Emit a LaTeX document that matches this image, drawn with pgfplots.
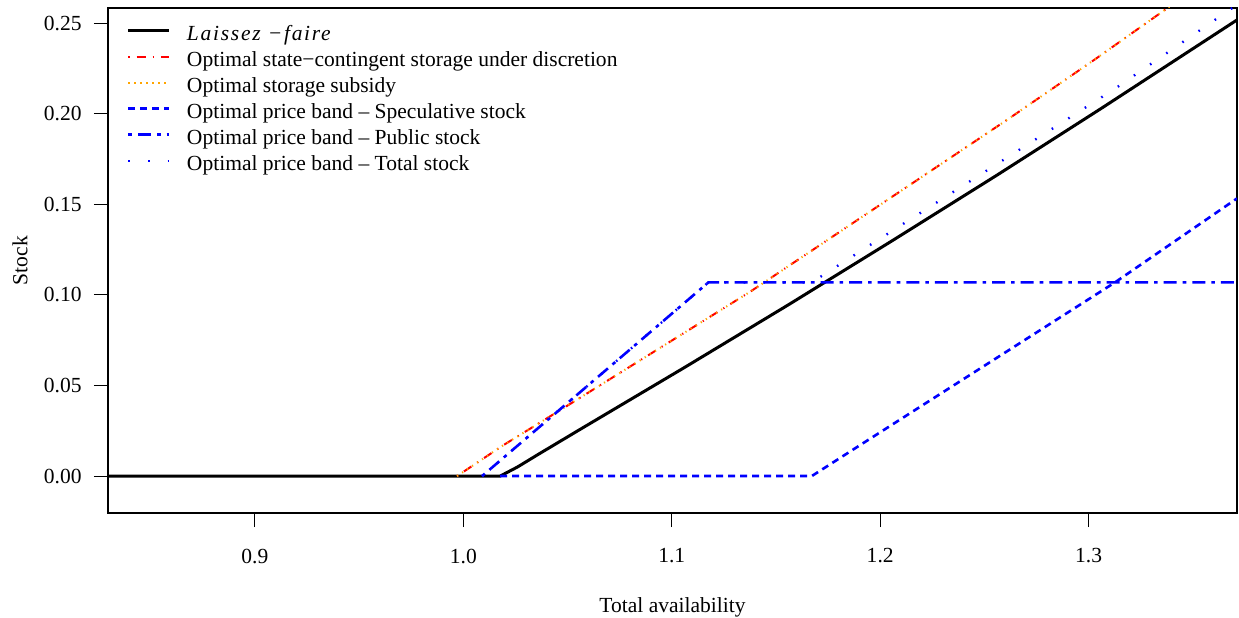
\documentclass[border=0pt]{standalone}
\usepackage{fontspec}
\setmainfont{Liberation Serif}
\usepackage{pgfplots}
\pgfplotsset{compat=1.18}
\definecolor{rblue}{RGB}{0,0,255}
\definecolor{rred}{RGB}{255,0,0}
\definecolor{rorange}{RGB}{255,165,0}

\begin{document}
\fontsize{10.8pt}{13pt}\selectfont
\begin{tikzpicture}
\begin{axis}[
    width=564.5bp, height=252.5bp, scale only axis,
    xmin=0.8295, xmax=1.3712, ymin=-0.0204, ymax=0.2583,
    xtick={0.9,1.0,1.1,1.2,1.3},
    ytick={0,0.05,0.10,0.15,0.20,0.25},
    xtick pos=bottom, ytick pos=left,
    tick align=outside, major tick length=7bp,
    every tick/.style={black, line width=0.5bp},
    axis line style={line width=0.8bp},
    xticklabel style={anchor=center, inner sep=0pt, yshift=-14.5bp,
        /pgf/number format/.cd, fixed, fixed zerofill, precision=1, assume math mode=true},
    yticklabel style={anchor=east, inner sep=0pt, xshift=-6bp,
        /pgf/number format/.cd, fixed, fixed zerofill, precision=2, assume math mode=true},
    xlabel={Total availability},
    ylabel={Stock},
    every axis x label/.style={at={(axis description cs:0.5,0)}, yshift=-47bp, anchor=center},
    every axis y label/.style={at={(axis description cs:0,0.5)}, xshift=-44bp, rotate=90, anchor=center},
    legend style={draw=none, fill=none, at={(axis description cs:0,1)}, anchor=north west,
        xshift=9.5bp, yshift=-9bp, inner sep=0pt, outer sep=0pt,
        column sep=8bp, row sep=3bp,
        nodes={inner sep=0pt, text height=7.5bp, text depth=2.5bp}},
    legend cell align=left,
    legend image code/.code={\draw[#1] (0bp,2.6bp) -- (20.5bp,2.6bp);},
]
% Laissez-faire
\addplot[black, line width=1.5bp] coordinates {
    (0.8295,0) (1.0177,0) (1.026,0.005) (1.036,0.012) (1.0561,0.0258)
    (1.1061,0.0599) (1.1561,0.0946) (1.2061,0.1301) (1.2561,0.1661)
    (1.3061,0.2029) (1.3712,0.2517)
};
\addlegendentry{{\itshape\addfontfeatures{LetterSpace=8}Laissez −faire}}
% state-contingent storage under discretion
\addplot[rred, line width=1bp, dash pattern=on 0.6bp off 3.5bp on 4.5bp off 3.5bp] coordinates {
    (0.997,0) (1.0193,0.0171) (1.0465,0.0364) (1.1376,0.1017)
    (1.164,0.122) (1.2608,0.1965) (1.3031,0.230) (1.3375,0.258) (1.3712,0.286)
};
\addlegendentry{Optimal state−contingent storage under discretion}
% storage subsidy
\addplot[rorange, line width=1bp, dash pattern=on 0.6bp off 2.4bp] coordinates {
    (0.997,0) (1.0193,0.0171) (1.0465,0.0364) (1.1376,0.1017)
    (1.164,0.122) (1.2608,0.1965) (1.3031,0.230) (1.3375,0.258) (1.3712,0.286)
};
\addlegendentry{Optimal storage subsidy}
% price band, speculative stock
\addplot[rblue, line width=1.3bp, dash pattern=on 3.5bp off 2.5bp] coordinates {
    (1.0177,0) (1.1672,0) (1.1904,0.0171) (1.3127,0.1069) (1.3712,0.1532)
};
\addlegendentry{Optimal price band – Speculative stock}
% price band, public stock
\addplot[rblue, line width=1.3bp, dash pattern=on 1.8bp off 3bp on 6.5bp off 3bp] coordinates {
    (1.009,0) (1.1176,0.1069) (1.3712,0.1069)
};
\addlegendentry{Optimal price band – Public stock}
% price band, total stock
\addplot[rblue, line width=1.2bp, dash pattern=on 0.8bp off 9bp] coordinates {
    (1.009,0) (1.1176,0.1069) (1.1672,0.1069) (1.1904,0.1240)
    (1.3127,0.2138) (1.3712,0.2601)
};
\addlegendentry{Optimal price band – Total stock}
\end{axis}
\pgfresetboundingbox
\path ([shift={(-54bp,-52.5bp)}]current axis.south west) rectangle ([shift={(1bp,4bp)}]current axis.north east);
\end{tikzpicture}
\end{document}
